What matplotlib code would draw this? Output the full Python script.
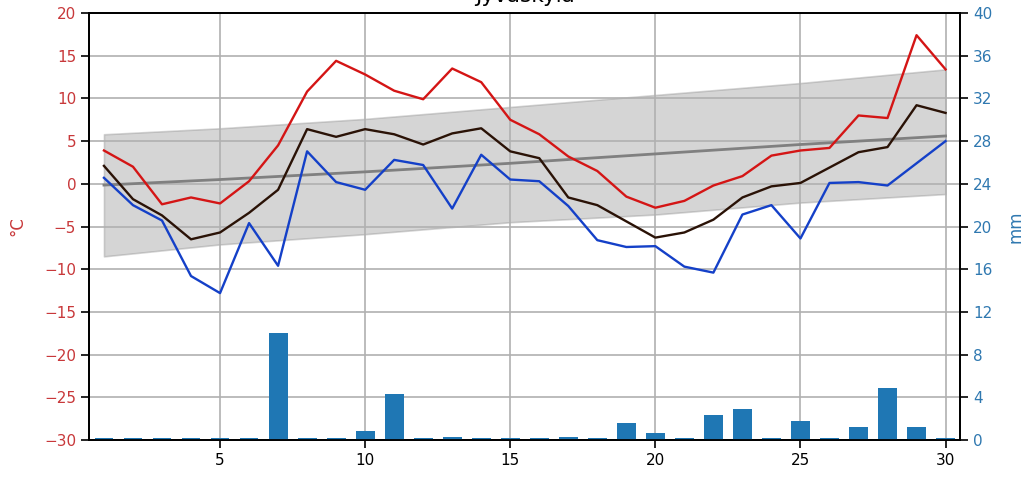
import numpy as np
import matplotlib
matplotlib.use('Agg')
import matplotlib.pyplot as plt

#days of the month
days = np.arange(1, 31)

#daily max, mean and min temperature (C)
tmax = [3.9, 2.0, -2.4, -1.6, -2.3, 0.3, 4.5, 10.8, 14.4, 12.8,
        10.9, 9.9, 13.5, 11.9, 7.5, 5.8, 3.2, 1.5, -1.5, -2.8,
        -2.0, -0.2, 0.9, 3.3, 3.9, 4.2, 8.0, 7.7, 17.4, 13.4]
tmean = [2.1, -1.8, -3.7, -6.5, -5.7, -3.4, -0.7, 6.4, 5.5, 6.4,
         5.8, 4.6, 5.9, 6.5, 3.8, 3.0, -1.6, -2.5, -4.4, -6.3,
         -5.7, -4.2, -1.6, -0.3, 0.1, 1.9, 3.7, 4.3, 9.2, 8.3]
tmin = [0.7, -2.5, -4.3, -10.8, -12.8, -4.6, -9.6, 3.8, 0.2, -0.7,
        2.8, 2.2, -2.9, 3.4, 0.5, 0.3, -2.6, -6.6, -7.4, -7.3,
        -9.7, -10.4, -3.6, -2.5, -6.4, 0.1, 0.2, -0.2, 2.4, 5.0]

#daily precipitation (mm)
precip = [0.2, 0.2, 0.2, 0.2, 0.2, 0.2, 10.0, 0.2, 0.2, 0.8,
          4.3, 0.2, 0.25, 0.2, 0.2, 0.2, 0.25, 0.2, 1.6, 0.7,
          0.2, 2.3, 2.9, 0.2, 1.8, 0.2, 1.2, 4.9, 1.2, 0.2]

#climatological mean and range, read at a few days
clim_days = [1, 5, 10, 15, 20, 25, 30]
clim_upper = [5.8, 6.5, 7.6, 9.0, 10.4, 11.8, 13.4]
clim_mean = [-0.15, 0.5, 1.4, 2.4, 3.5, 4.6, 5.6]
clim_lower = [-8.5, -7.1, -5.9, -4.5, -3.6, -2.2, -1.2]

red_lbl = '#c8383a'
blue_lbl = '#2f78b0'

plt.rcParams['font.size'] = 11

fig, ax = plt.subplots(figsize=(10.34, 4.83), dpi=100)
fig.subplots_adjust(left=0.0865, right=0.9285, top=0.9731, bottom=0.089)

#climate band and mean
ax.fill_between(clim_days, clim_lower, clim_upper, color='gray', alpha=0.33, lw=1.2)
ax.plot(clim_days, clim_mean, color='gray', lw=2)

#temperature lines
ax.plot(days, tmax, color='#d41515', lw=1.7)
ax.plot(days, tmean, color='#2a1206', lw=1.7)
ax.plot(days, tmin, color='#1440c8', lw=1.7)

ax.set_xlim(0.5, 30.5)
ax.set_ylim(-30, 20)
ax.set_yticks(np.arange(-30, 21, 5))
ax.set_xticks([5, 10, 15, 20, 25, 30])
ax.grid(True, color='#b0b0b0', lw=1.2)
ax.set_ylabel('°C', color=red_lbl, fontsize=12, labelpad=13)
ax.tick_params(axis='y', labelcolor=red_lbl, length=6, width=1.2)
ax.tick_params(axis='x', length=6, width=1.2)
ax.set_title('Jyväskylä', fontsize=15.5, pad=8)

#precipitation bars
ax2 = ax.twinx()
ax2.bar(days, precip, width=0.65, color='#1f77b4')
ax2.set_ylim(0, 40)
ax2.set_yticks(np.arange(0, 41, 4))
ax2.set_ylabel('mm', color=blue_lbl, fontsize=12, labelpad=10)
ax2.tick_params(axis='y', labelcolor=blue_lbl, length=6, width=1.2)

for a in (ax, ax2):
    for s in a.spines.values():
        s.set_linewidth(1.3)

plt.savefig('out.png')
